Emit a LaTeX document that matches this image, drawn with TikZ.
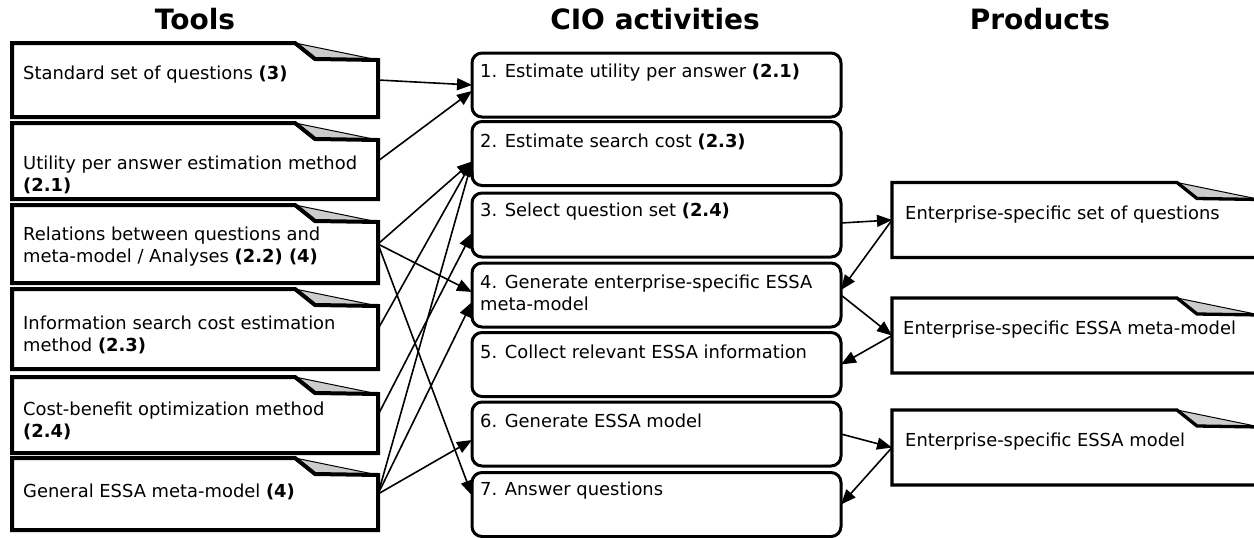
\documentclass[tikz,border=0pt]{standalone}
\usepackage{fontspec}
\setmainfont{DejaVu Sans}
\usetikzlibrary{arrows.meta,positioning}

\begin{document}
\begin{tikzpicture}[x=1pt, y=-1pt,
    toolbox/.style={minimum width=366pt, minimum height=#1, inner sep=0pt, outer sep=0pt},
    prodbox/.style={minimum width=368pt, minimum height=75pt, inner sep=0pt, outer sep=0pt},
    actbox/.style={draw, line width=3pt, rounded corners=10pt, minimum width=369pt,
                minimum height=64pt, inner sep=0pt, outer sep=0pt},
    txt/.style={font=\fontsize{17.9}{22}\selectfont, align=left, inner sep=0pt, anchor=west},
    head/.style={font=\fontsize{28}{32}\selectfont\bfseries, inner sep=0pt},
    arr/.style={-{Triangle[length=15pt,width=12pt]}, line width=1.6pt}
  ]
    \useasboundingbox (0,0) rectangle (1254,538);

    % Column headings
    \node[head] (htools) at (195,19.5) {Tools};
    \node[head] (hcio)   at (655,19.5) {CIO activities};
    \node[head] (hprod)  at (1040,19.5) {Products};

    % Tools
    \node[toolbox=74pt] (t1) at (195,80)  {};
    \node[toolbox=76pt] (t2) at (195,161) {};
    \node[toolbox=78pt] (t3) at (195,244) {};
    \node[toolbox=80pt] (t4) at (195,329) {};
    \node[toolbox=76pt] (t5) at (195,415) {};
    \node[toolbox=72pt] (t6) at (195,494) {};

    % Products
    \node[prodbox] (p1) at (1076,220)   {};
    \node[prodbox] (p2) at (1076,335.5) {};
    \node[prodbox] (p3) at (1076,447.5) {};

    % Note outlines with folded corner
    \foreach \n/\lw in {t1/4,t2/4,t3/4,t4/4,t5/4,t6/4,p1/3.3,p2/3.3,p3/3.3} {
      \filldraw[fill=gray!40, line width=1pt]
        ([xshift=-83pt]\n.north east) -- ([xshift=-63pt,yshift=-16pt]\n.north east)
        -- ([yshift=-17pt]\n.north east) -- cycle;
      \draw[line width=\lw pt] (\n.north west) -- ([xshift=-83pt]\n.north east)
        -- ([xshift=-63pt,yshift=-16pt]\n.north east) -- ([yshift=-17pt]\n.north east)
        -- (\n.south east) -- (\n.south west) -- cycle;
    }

    % Tool texts
    \node[txt] (t1l) at (23,75)    {Standard set of questions \textbf{(3)}};
    \node[txt] (t2l) at (23,174.5) {Utility per answer estimation method\\\textbf{(2.1)}};
    \node[txt] (t3l) at (23,246.5) {Relations between questions and\\meta-model / Analyses \textbf{(2.2) (4)}};
    \node[txt] (t4l) at (23,334.5) {Information search cost estimation\\method \textbf{(2.3)}};
    \node[txt] (t5l) at (23,421)   {Cost-benefit optimization method\\\textbf{(2.4)}};
    \node[txt] (t6l) at (23,492)   {General ESSA meta-model \textbf{(4)}};

    % CIO activities
    \node[actbox] (a1) at (656.5,85)    {};
    \node[actbox] (a2) at (656.5,153.5) {};
    \node[actbox] (a3) at (656.5,225)   {};
    \node[actbox] (a4) at (656.5,295)   {};
    \node[actbox] (a5) at (656.5,364.5) {};
    \node[actbox] (a6) at (656.5,434)   {};
    \node[actbox] (a7) at (656.5,504.5) {};

    \node[txt] (a1l) at (480,73)  {1. Estimate utility per answer \textbf{(2.1)}};
    \node[txt] (a2l) at (480,142) {2. Estimate search cost \textbf{(2.3)}};
    \node[txt] (a3l) at (480,212) {3. Select question set \textbf{(2.4)}};
    \node[txt] (a4l) at (480,293) {4. Generate enterprise-specific ESSA\\meta-model};
    \node[txt] (a5l) at (480,352) {5. Collect relevant ESSA information};
    \node[txt] (a6l) at (480,421) {6. Generate ESSA model};
    \node[txt] (a7l) at (480,491) {7. Answer questions};

    % Product texts
    \node[txt] (p1l) at (905,215) {Enterprise-specific set of questions};
    \node[txt] (p2l) at (903,330) {Enterprise-specific ESSA meta-model};
    \node[txt] (p3l) at (905,442) {Enterprise-specific ESSA model};

    % Tools -> activities
    \draw[arr] (t1.east) -- (a1.west);
    \draw[arr] (t2.east) -- ([yshift=-6pt]a1.west);
    \draw[arr] (t3.east) -- ([yshift=-8pt]a2.west);
    \draw[arr] (t3.east) -- ([yshift=3pt]a4.west);
    \draw[arr] (t3.east) -- ([yshift=9pt]a7.west);
    \draw[arr] (t4.east) -- ([yshift=-8pt]a2.west);
    \draw[arr] (t5.east) -- ([yshift=-8pt]a3.west);
    \draw[arr] (t6.east) -- ([yshift=-8pt]a2.west);
    \draw[arr] (t6.east) -- ([yshift=-7pt]a4.west);
    \draw[arr] (t6.east) -- ([yshift=-6pt]a6.west);

    % Activities <-> products
    \draw[arr] ([yshift=2pt]a3.east) -- (p1.west);
    \draw[arr] (p1.west) -- ([yshift=5pt]a4.east);
    \draw[arr] (a4.east) -- (p2.west);
    \draw[arr] (p2.west) -- (a5.east);
    \draw[arr] (a6.east) -- (p3.west);
    \draw[arr] (p3.west) -- (a7.east);
  \end{tikzpicture}
\end{document}
